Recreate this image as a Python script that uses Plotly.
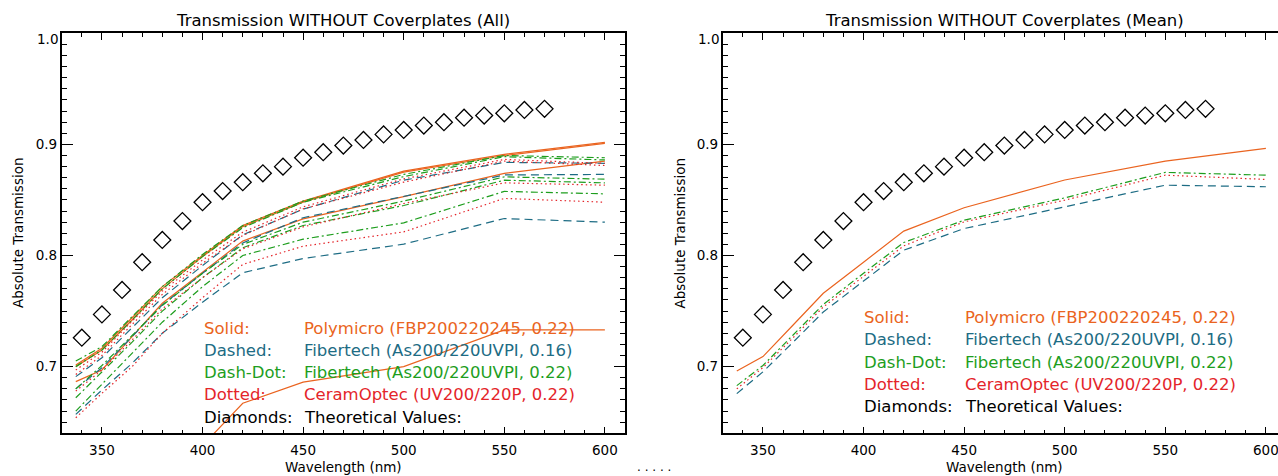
import plotly.graph_objects as go

# ---------------- data ----------------
wavelength = [337, 350, 365, 380, 400, 420, 450, 500, 550, 600]

theory_wl = [340, 350, 360, 370, 380, 390, 400, 410, 420, 430, 440, 450,
             460, 470, 480, 490, 500, 510, 520, 530, 540, 550, 560, 570]
theory_T = [0.726, 0.747, 0.769, 0.794, 0.814, 0.831, 0.848, 0.858, 0.866, 0.874,
            0.880, 0.888, 0.893, 0.899, 0.904, 0.909, 0.913, 0.917, 0.920, 0.924,
            0.926, 0.928, 0.931, 0.932]

# individual fibres (left panel)
polymicro_a = [0.7015, 0.7166, 0.744, 0.772, 0.800, 0.827, 0.849, 0.876, 0.891, 0.9018]
polymicro_b = [0.700, 0.715, 0.742, 0.770, 0.799, 0.826, 0.848, 0.875, 0.890, 0.901]
polymicro_c = [0.6865, 0.697, 0.727, 0.757, 0.785, 0.813, 0.833, 0.853, 0.874, 0.885]
polymicro_d = [0.550, 0.560, 0.580, 0.600, 0.629, 0.667, 0.686, 0.700, 0.733, 0.733]

fibertech16_a = [0.691, 0.708, 0.735, 0.762, 0.791, 0.8186, 0.8417, 0.8678, 0.8838, 0.883]
fibertech16_b = [0.680, 0.699, 0.727, 0.7556, 0.784, 0.8113, 0.834, 0.8534, 0.8725, 0.873]
fibertech16_c = [0.657, 0.679, 0.703, 0.730, 0.758, 0.7845, 0.7973, 0.8102, 0.8333, 0.830]

fibertech22_a = [0.705, 0.718, 0.745, 0.772, 0.801, 0.827, 0.849, 0.873, 0.890, 0.888]
fibertech22_b = [0.700, 0.715, 0.742, 0.770, 0.799, 0.825, 0.848, 0.871, 0.889, 0.886]
fibertech22_c = [0.680, 0.701, 0.728, 0.755, 0.784, 0.810, 0.830, 0.849, 0.8708, 0.8687]
fibertech22_d = [0.672, 0.695, 0.722, 0.750, 0.780, 0.807, 0.827, 0.845, 0.8678, 0.8654]
fibertech22_e = [0.660, 0.684, 0.712, 0.740, 0.772, 0.800, 0.8147, 0.8294, 0.8577, 0.8555]

ceramoptec_a = [0.697, 0.713, 0.741, 0.768, 0.796, 0.821, 0.8438, 0.869, 0.8865, 0.8829]
ceramoptec_b = [0.693, 0.710, 0.738, 0.765, 0.793, 0.818, 0.842, 0.866, 0.885, 0.881]
ceramoptec_c = [0.678, 0.697, 0.724, 0.752, 0.780, 0.806, 0.8258, 0.8468, 0.8654, 0.8633]
ceramoptec_d = [0.654, 0.676, 0.700, 0.730, 0.762, 0.792, 0.8084, 0.8213, 0.8514, 0.848]

# means (right panel)
polymicro_mean = [0.696, 0.709, 0.7375, 0.766, 0.794, 0.822, 0.843, 0.868, 0.885, 0.8964]
fibertech16_mean = [0.6757, 0.6953, 0.722, 0.7492, 0.777, 0.8048, 0.8243, 0.8438, 0.8633, 0.8619]
fibertech22_mean = [0.6829, 0.7010, 0.7285, 0.756, 0.784, 0.8117, 0.8318, 0.8519, 0.8748, 0.8723]
ceramoptec_mean = [0.680, 0.6991, 0.726, 0.7537, 0.7812, 0.8087, 0.8303, 0.8498, 0.8723, 0.8685]

y_tickvals = [0.7, 0.8, 0.9, 1.0]
y_ticktext = ["0.7", "0.8", "0.9", ""]   # "1.0" is drawn slightly below the frame, as in the original
top_label = "1.0"

legend_labels = ["Solid:", "Dashed:", "Dash-Dot:", "Dotted:", "Diamonds:"]
legend_texts = ["Polymicro (FBP200220245, 0.22)", "Fibertech (As200/220UVPI, 0.16)",
                "Fibertech (As200/220UVPI, 0.22)", "CeramOptec (UV200/220P, 0.22)",
                "Theoretical Values:"]

# ---------------- style ----------------
W, H = 1278, 476
ORANGE = "#EA6420"
TEAL = "#1D6C84"
GREEN = "#1E9E1E"
RED = "#E4252A"
BLACK = "#000000"
legend_colors = [ORANGE, TEAL, GREEN, RED, BLACK]

DASHED = "8px,5px"
DASHDOT = "7px,3px,2px,3px"
DOTTED = "1.5px,3px"

FONT = "DejaVu Sans"

fig = go.Figure()


def add_line(y, color, dash, xa, ya):
    fig.add_trace(go.Scatter(x=wavelength, y=y, mode="lines",
                             line=dict(color=color, width=1.2, dash=dash),
                             xaxis=xa, yaxis=ya, showlegend=False, hoverinfo="skip"))


left_sets = [
    ([polymicro_a, polymicro_b, polymicro_c, polymicro_d], ORANGE, "solid"),
    ([fibertech16_a, fibertech16_b, fibertech16_c], TEAL, DASHED),
    ([fibertech22_a, fibertech22_b, fibertech22_c, fibertech22_d, fibertech22_e], GREEN, DASHDOT),
    ([ceramoptec_a, ceramoptec_b, ceramoptec_c, ceramoptec_d], RED, DOTTED),
]
for series, color, dash in left_sets:
    for s in series:
        add_line(s, color, dash, "x", "y")

right_sets = [
    (polymicro_mean, ORANGE, "solid"),
    (fibertech16_mean, TEAL, DASHED),
    (fibertech22_mean, GREEN, DASHDOT),
    (ceramoptec_mean, RED, DOTTED),
]
for s, color, dash in right_sets:
    add_line(s, color, dash, "x2", "y2")

for xa, ya in (("x", "y"), ("x2", "y2")):
    fig.add_trace(go.Scatter(x=theory_wl, y=theory_T, mode="markers",
                             marker=dict(symbol="diamond-open", size=13,
                                         color=BLACK, line=dict(color=BLACK, width=1.3)),
                             xaxis=xa, yaxis=ya, showlegend=False, hoverinfo="skip"))

# ---------------- axes ----------------
px_per_nm = (625 - 61.7) / 280.0
x_left = [61.7 / W, 625 / W]
x_right = [722.7 / W, 1.0]
right_end = 330 + (W - 722.7) / px_per_nm
y_dom = [(H - 433.3) / H, (H - 33.3) / H]

xcommon = dict(tick0=350, dtick=50, ticks="inside", ticklen=7, tickwidth=1.2,
               tickcolor=BLACK, showline=True, linecolor=BLACK, linewidth=1.6,
               mirror="allticks", showgrid=False, zeroline=False, automargin=False,
               tickfont=dict(family=FONT, size=13.5, color=BLACK),
               ticklabelstandoff=4, ticklabeloverflow="allow",
               minor=dict(dtick=10, ticks="inside", ticklen=3.5, tickwidth=1,
                          tickcolor=BLACK, showgrid=False))
ycommon = dict(range=[0.64, 1.0], tickmode="array", tickvals=y_tickvals, ticktext=y_ticktext,
               ticks="inside", ticklen=11, tickwidth=1.2, tickcolor=BLACK, showline=True,
               linecolor=BLACK, linewidth=1.6, showgrid=False, zeroline=False, automargin=False,
               tickfont=dict(family=FONT, size=13.5, color=BLACK),
               minor=dict(tick0=0.64, dtick=0.01, ticks="inside", ticklen=5, tickwidth=1,
                          tickcolor=BLACK, showgrid=False))

fig.update_layout(
    template="none",
    width=W, height=H, autosize=False,
    margin=dict(l=0, r=0, t=0, b=0, pad=0, autoexpand=False),
    paper_bgcolor="white", plot_bgcolor="white",
    xaxis={**xcommon, "range": [330, 610], "domain": x_left, "anchor": "y"},
    yaxis={**ycommon, "domain": y_dom, "anchor": "x", "mirror": "allticks"},
    xaxis2={**xcommon, "range": [330, right_end], "domain": x_right, "anchor": "y2"},
    yaxis2={**ycommon, "domain": y_dom, "anchor": "x2", "mirror": False},
)

# ---------------- text ----------------
ann = []


def add_text(x, y, text, size, color=BLACK, xanchor="center", angle=0):
    ann.append(dict(x=x / W, y=(H - y) / H, xref="paper", yref="paper", text=text,
                    showarrow=False, xanchor=xanchor, yanchor="middle", textangle=angle,
                    font=dict(family=FONT, size=size, color=color)))


add_text(343, 20.5, "Transmission WITHOUT Coverplates (All)", 16.5)
add_text(1004, 20.5, "Transmission WITHOUT Coverplates (Mean)", 16.5)
add_text(343, 467, "Wavelength (nm)", 13.5)
add_text(1004, 467, "Wavelength (nm)", 13.5)
add_text(18, 233, "Absolute Transmission", 13.5, angle=-90)
add_text(679.5, 233, "Absolute Transmission", 13.5, angle=-90)
add_text(59.5, 38.5, top_label, 13.5, xanchor="right")
add_text(720.5, 38.5, top_label, 13.5, xanchor="right")

left_rows = [328.5, 350.5, 372.5, 394.5, 417]
right_rows = [317, 339.5, 362, 384.5, 406.5]
for i in range(5):
    add_text(202, left_rows[i], legend_labels[i], 16.5, legend_colors[i], "left")
    add_text(302, left_rows[i], legend_texts[i], 16.5, legend_colors[i], "left")
    add_text(862, right_rows[i], legend_labels[i], 16.5, legend_colors[i], "left")
    add_text(963, right_rows[i], legend_texts[i], 16.5, legend_colors[i], "left")

ann.append(dict(x=654 / W, y=0, xref="paper", yref="paper", text=". . . . .",
                showarrow=False, xanchor="center", yanchor="bottom",
                font=dict(family=FONT, size=12, color=BLACK)))

fig.update_layout(annotations=ann)

fig.write_html(
    "out.html",
    config={"displayModeBar": False, "responsive": False},
    post_script="document.body.style.margin='0px';document.body.style.padding='0px';"
                "document.body.style.overflow='hidden';"
                "document.documentElement.style.overflow='hidden';",
)
